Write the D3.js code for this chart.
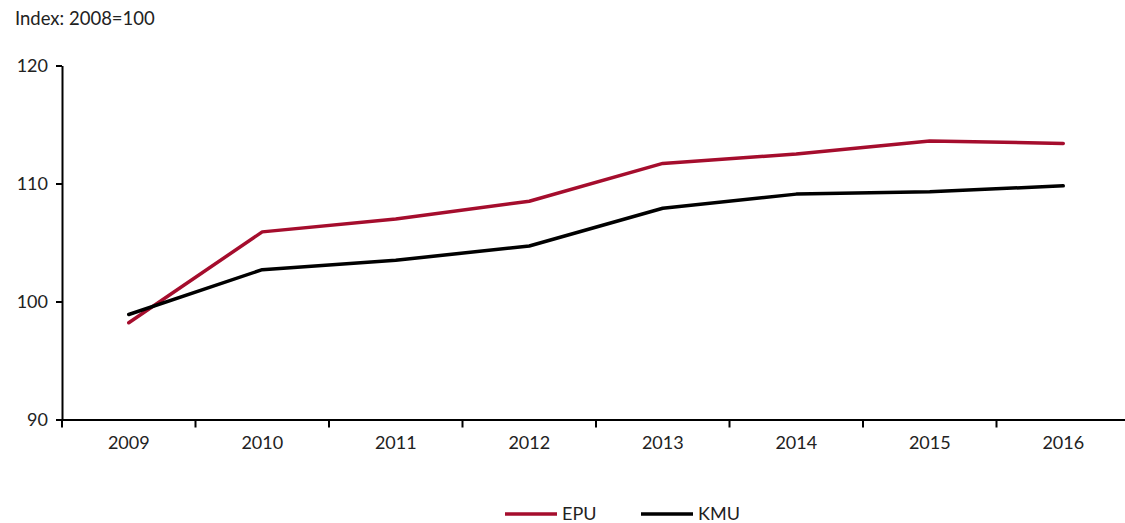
<!DOCTYPE html>
<html><head><meta charset="utf-8">
<script src="https://cdn.jsdelivr.net/npm/d3@7/dist/d3.min.js"></script>
<style>body{margin:0;background:#fff;} svg{display:block;} text{font-family:Lato,"Open Sans",sans-serif;fill:#222;}</style>
</head><body><svg id="c" width="1125" height="523"></svg>
<script>
const categories = ["2009","2010","2011","2012","2013","2014","2015","2016"];
const epu = [98.2,105.9,107.0,108.5,111.7,112.5,113.6,113.4];
const kmu = [98.9,102.7,103.5,104.7,107.9,109.1,109.3,109.8];
const yTicks = [90,100,110,120];
const seriesNames = ["EPU","KMU"];
const seriesColors = ["#A50D2D","#000000"];

(function(){
const svg = d3.select("#c");
const mLeft = 62, mRight = 1130, mTop = 65.5, mBottom = 419.5;
const x = d3.scaleBand().domain(categories).range([mLeft, mRight]);
const y = d3.scaleLinear().domain([90,120]).range([mBottom, mTop]);

svg.append("text").attr("x",15).attr("y",25).attr("font-size",18.5).text("Index: 2008=100");

const ya = svg.append("g").attr("transform",`translate(${mLeft},0)`)
  .call(d3.axisLeft(y).tickValues(yTicks).tickSize(6).tickSizeOuter(0));
ya.select(".domain").attr("stroke","#000").attr("stroke-width",2);
ya.selectAll(".tick line").attr("stroke","#000").attr("stroke-width",2);
ya.selectAll(".tick text").attr("font-size",18).attr("x",-14).attr("font-family","Lato,'Open Sans',sans-serif").attr("fill","#222");

const xa = svg.append("g").attr("transform",`translate(0,${mBottom})`)
  .call(d3.axisBottom(x).tickSize(0).tickSizeOuter(0));
xa.select(".domain").attr("stroke","#000").attr("stroke-width",2);
xa.selectAll(".tick text").attr("font-size",18).attr("y",17).attr("font-family","Lato,'Open Sans',sans-serif").attr("fill","#222");
const bounds = categories.map(c => x(c)).concat([x(categories[categories.length-1]) + x.bandwidth()]);
svg.append("g").selectAll("line").data(bounds).join("line")
  .attr("x1",d=>d).attr("x2",d=>d).attr("y1",mBottom).attr("y2",mBottom+8)
  .attr("stroke","#000").attr("stroke-width",2);

const line = d3.line().x((d,i)=>x(categories[i]) + x.bandwidth()/2).y(d=>y(d));
[epu,kmu].forEach((s,i)=>{
  svg.append("path").datum(s).attr("d",line).attr("fill","none")
    .attr("stroke",seriesColors[i]).attr("stroke-width",3.5).attr("stroke-linecap","round").attr("stroke-linejoin","round");
});

const legX = [505, 641];
seriesNames.forEach((n,i)=>{
  svg.append("line").attr("x1",legX[i]).attr("x2",legX[i]+52).attr("y1",514).attr("y2",514)
    .attr("stroke",seriesColors[i]).attr("stroke-width",3.5);
  svg.append("text").attr("x",legX[i]+57).attr("y",520).attr("font-size",18).text(n);
});
})();
</script></body></html>
